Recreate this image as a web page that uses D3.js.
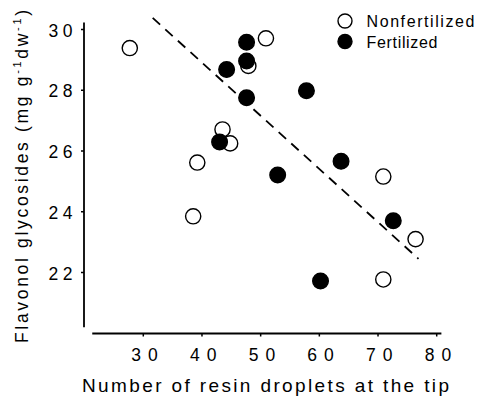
<!DOCTYPE html>
<html><head><meta charset="utf-8">
<script src="https://cdn.jsdelivr.net/npm/d3@7"></script>
<style>
html,body{margin:0;padding:0;background:#fff;}
svg{display:block;font-family:Arial, "Liberation Sans", Helvetica, sans-serif;}
</style></head>
<body>
<svg id="c" width="479" height="399"></svg>
<script>
// ---- data ----
const nonfertX = [27.7, 50.9, 47.9, 43.5, 44.8, 39.2, 70.9, 38.5, 76.4, 70.9];
const nonfertY = [29.39, 29.71, 28.80, 26.71, 26.25, 25.62, 25.16, 23.85, 23.10, 21.77];
const fertX = [47.6, 47.6, 44.2, 47.6, 57.8, 43.0, 63.7, 52.9, 72.6, 60.2];
const fertY = [29.58, 28.96, 28.68, 27.75, 27.98, 26.30, 25.66, 25.21, 23.70, 21.72];
const trendX = [31.6, 76.9];
const trendY = [30.38, 22.45];
const xTicks = [30, 40, 50, 60, 70, 80];
const yTicks = [22, 24, 26, 28, 30];
const legendLabels = ["Nonfertilized", "Fertilized"];
const xTitle = "Number of resin droplets at the tip";

const svg = d3.select("#c");
const x = d3.scaleLinear().domain([30, 80]).range([143.3, 436.7]);
const y = d3.scaleLinear().domain([22, 30]).range([272.5, 29.5]);

function fit(t, target) {
  t.attr("letter-spacing", 0);
  const n = t.text().length;
  const w = t.node().getComputedTextLength();
  t.attr("letter-spacing", n > 1 ? (target - w) / (n - 1) : 0);
  return t;
}

// axes lines
svg.append("line").attr("x1", 84).attr("x2", 84)
  .attr("y1", y(30.23)).attr("y2", y(20.2))
  .attr("stroke", "#000").attr("stroke-width", 1.8);
svg.append("line").attr("x1", x(21.3)).attr("x2", x(80.8))
  .attr("y1", 333.5).attr("y2", 333.5)
  .attr("stroke", "#000").attr("stroke-width", 1.8);

// y ticks
yTicks.forEach(v => {
  svg.append("line").attr("x1", 81).attr("x2", 84).attr("y1", y(v)).attr("y2", y(v))
    .attr("stroke", "#000").attr("stroke-width", 1.5);
  const t = svg.append("text").attr("y", y(v) + 7).attr("font-size", 17.5).text(String(v));
  fit(t, 24);
  t.attr("x", 48.5);
});
// x ticks
xTicks.forEach(v => {
  svg.append("line").attr("x1", x(v)).attr("x2", x(v)).attr("y1", 333.5).attr("y2", 336.5)
    .attr("stroke", "#000").attr("stroke-width", 1.5);
  const t = svg.append("text").attr("y", 360.7).attr("font-size", 17.5).text(String(v));
  fit(t, 26.5);
  t.attr("x", x(v) - 13 + 1);
});

// trend line
svg.append("line")
  .attr("x1", x(trendX[0])).attr("y1", y(trendY[0]))
  .attr("x2", x(trendX[1])).attr("y2", y(trendY[1]))
  .attr("stroke", "#000").attr("stroke-width", 1.8).attr("stroke-dasharray", "10,7");

// points
const nonfert = nonfertX.map((v, i) => [v, nonfertY[i]]);
const fert = fertX.map((v, i) => [v, fertY[i]]);
svg.append("g").selectAll("circle").data(nonfert).join("circle")
  .attr("cx", d => x(d[0])).attr("cy", d => y(d[1])).attr("r", 7.6)
  .attr("fill", "#fff").attr("stroke", "#000").attr("stroke-width", 1.4);
svg.append("g").selectAll("circle").data(fert).join("circle")
  .attr("cx", d => x(d[0])).attr("cy", d => y(d[1])).attr("r", 7.8)
  .attr("fill", "#000").attr("stroke", "#000").attr("stroke-width", 1.4);

// legend
[0, 1].forEach(i => {
  const cy = 21 + i * 20.5;
  svg.append("circle").attr("cx", 345).attr("cy", cy).attr("r", 7)
    .attr("fill", i === 0 ? "#fff" : "#000").attr("stroke", "#000").attr("stroke-width", 1.4);
  const t = svg.append("text").attr("x", 366.5).attr("y", cy + 6).attr("font-size", 16).text(legendLabels[i]);
  fit(t, i === 0 ? 108 : 71);
});

// x title
const xt = svg.append("text").attr("x", 82).attr("y", 392).attr("font-size", 19).text(xTitle);
fit(xt, 367);

// y title (rotated)
const yt = svg.append("text").attr("font-size", 17.5)
  .attr("transform", "translate(28,343) rotate(-90)");
yt.append("tspan").text("Flavonol glycosides (mg g");
yt.append("tspan").attr("font-size", 11).attr("dy", -7).text("-1");
yt.append("tspan").attr("dy", 7).text("dw");
yt.append("tspan").attr("font-size", 11).attr("dy", -7).text("-1");
yt.append("tspan").attr("dy", 7).text(")");
{
  yt.attr("letter-spacing", 0);
  const w = yt.node().getComputedTextLength();
  const n = yt.text().length;
  yt.attr("letter-spacing", (333 - w) / (n - 1));
}
</script>
</body></html>
